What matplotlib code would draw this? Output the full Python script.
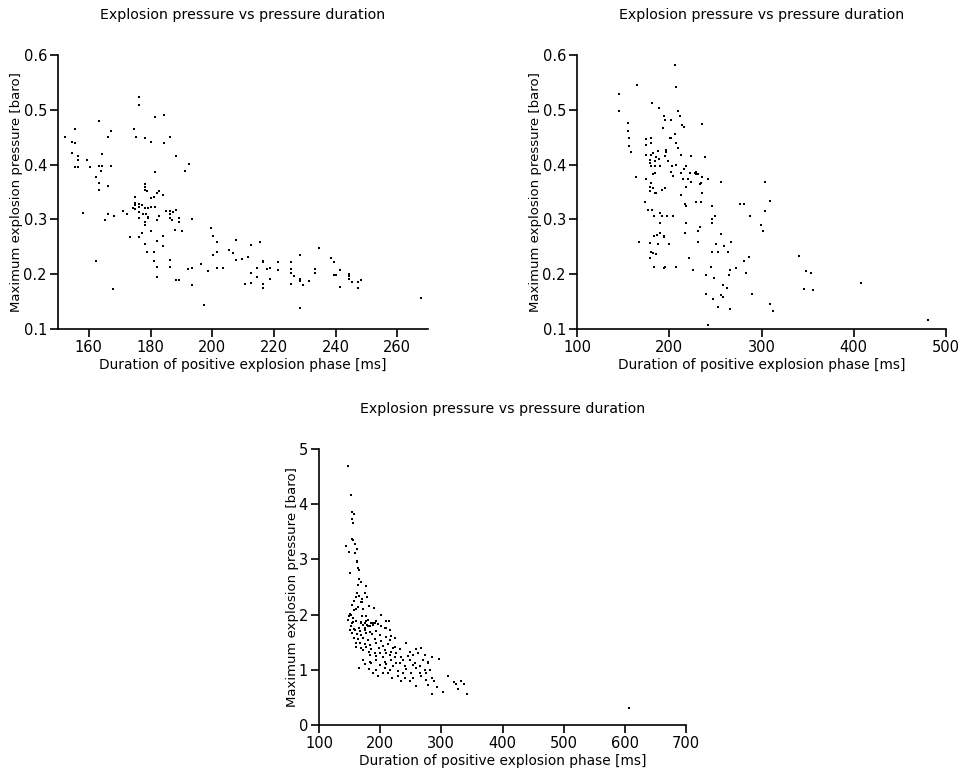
import numpy as np
import matplotlib.pyplot as plt

# durations [ms] and peak pressures [baro]
p1_dur = [
    152.4, 155.6, 154.4, 155.6, 154.4, 156.4, 156.4, 155.6, 156.4, 159.4,
    160.3, 158.2, 162.2, 163.2, 164.3, 163.2, 164.3, 164.1, 162.4, 163.2,
    163.2, 166.2, 166.2, 167.3, 167.3, 165.2, 166.3, 168.0, 167.9, 171.0,
    172.3, 173.2, 174.5, 175.4, 176.4, 176.4, 178.2, 180.3, 181.4, 184.4,
    184.4, 186.4, 188.3, 181.3, 192.6, 191.3, 178.2, 178.2, 178.2, 179.0,
    182.0, 182.9, 181.2, 180.3, 184.2, 175.1, 175.1, 175.1, 176.2, 177.2,
    174.3, 175.1, 176.2, 178.2, 179.3, 176.2, 177.5, 178.6, 179.3, 180.3,
    181.4, 176.2, 179.3, 185.1, 186.4, 187.2, 188.3, 182.9, 186.2, 186.2,
    187.0, 189.2, 189.4, 193.3, 182.0, 178.2, 178.2, 177.1, 176.2, 180.3,
    182.0, 184.2, 184.2, 178.2, 179.0, 181.2, 181.2, 182.0, 182.0, 186.2,
    186.2, 188.3, 189.2, 188.1, 190.3, 192.2, 193.3, 193.3,
    199.5, 200.4, 201.5, 201.5, 200.4, 196.5, 198.5, 201.5, 203.4, 205.6,
    206.7, 207.6, 207.6, 209.6, 211.5, 212.6, 215.6, 212.6, 212.6, 210.6,
    214.6, 214.6, 216.6, 216.6, 216.6, 216.6, 217.7, 218.6, 218.6, 221.4,
    221.4, 225.5, 225.5, 225.5, 225.5, 226.5, 228.4, 228.4, 228.4, 229.5,
    231.5, 228.4, 233.4, 233.4, 234.6, 238.4, 239.5, 239.5, 240.2, 197.4,
    241.5, 244.5, 244.5, 244.5, 248.2, 247.3, 245.4, 241.5, 247.3, 267.8,
]
p1_pres = [
    0.451, 0.465, 0.442, 0.439, 0.422, 0.416, 0.408, 0.396, 0.396, 0.408,
    0.396, 0.312, 0.225, 0.479, 0.419, 0.398, 0.398, 0.389, 0.378, 0.366,
    0.354, 0.361, 0.451, 0.462, 0.398, 0.299, 0.310, 0.307, 0.173, 0.315,
    0.309, 0.268, 0.465, 0.451, 0.524, 0.509, 0.449, 0.441, 0.486, 0.491,
    0.439, 0.451, 0.415, 0.386, 0.402, 0.388, 0.364, 0.359, 0.353, 0.351,
    0.349, 0.351, 0.340, 0.339, 0.344, 0.340, 0.330, 0.327, 0.329, 0.327,
    0.321, 0.319, 0.323, 0.321, 0.321, 0.313, 0.310, 0.310, 0.305, 0.323,
    0.323, 0.303, 0.303, 0.316, 0.316, 0.313, 0.318, 0.307, 0.310, 0.303,
    0.298, 0.295, 0.303, 0.301, 0.298, 0.296, 0.290, 0.276, 0.268, 0.278,
    0.261, 0.269, 0.251, 0.256, 0.241, 0.241, 0.225, 0.214, 0.195, 0.226,
    0.213, 0.190, 0.190, 0.280, 0.278, 0.209, 0.211, 0.181,
    0.284, 0.269, 0.259, 0.241, 0.235, 0.219, 0.205, 0.212, 0.212, 0.245,
    0.238, 0.263, 0.226, 0.228, 0.232, 0.254, 0.259, 0.202, 0.184, 0.183,
    0.211, 0.195, 0.225, 0.222, 0.183, 0.175, 0.209, 0.212, 0.191, 0.223,
    0.207, 0.223, 0.210, 0.203, 0.183, 0.196, 0.235, 0.192, 0.187, 0.181,
    0.187, 0.138, 0.209, 0.203, 0.248, 0.229, 0.223, 0.199, 0.199, 0.144,
    0.208, 0.201, 0.197, 0.192, 0.190, 0.185, 0.186, 0.176, 0.175, 0.156,
]

p2_dur = [
    145.2, 145.2, 165.5, 155.3, 155.3, 156.5, 156.0, 158.3, 163.7, 167.2,
    175.2, 179.9, 174.5, 180.6, 180.6, 182.4, 188.2, 175.2, 179.5, 186.0,
    184.2, 188.6, 178.8, 180.6, 184.2, 189.7, 182.4, 184.2, 175.2, 179.9,
    178.8, 182.4, 179.5, 184.2, 186.0, 192.2, 195.1, 173.8, 177.0, 181.3,
    183.5, 189.7, 192.6, 197.6, 204.1, 190.4, 183.5, 186.8, 190.4, 194.0,
    179.5, 187.5, 199.8, 194.0, 179.9, 182.4, 186.0, 178.8, 183.2, 194.0,
    195.8, 207.0, 181.0, 188.6, 194.0, 195.1, 193.3, 201.2, 205.9, 207.7,
    209.2, 196.9, 196.9, 195.8, 198.7, 203.4, 207.7, 213.2, 202.3, 204.1,
    213.2, 215.7, 218.6, 215.0, 220.0, 222.2, 229.4, 231.2, 235.6, 234.9,
    242.1, 218.6, 224.0, 228.3, 229.4, 233.0, 212.4, 216.8, 218.6, 228.7,
    234.1, 224.0, 235.6, 239.2, 218.6, 217.5, 230.9, 233.4, 231.6, 221.1,
    225.8, 239.6, 239.6, 235.9, 209.5, 211.4, 213.5, 216.1, 207.0, 205.9,
    201.6, 201.6,
    255.8, 303.5, 246.4, 277.2, 281.1, 309.0, 304.3, 250.0, 246.8, 287.3,
    246.8, 299.9, 302.1, 255.8, 267.0, 250.8, 259.8, 246.1, 252.9, 264.1,
    340.8, 286.9, 281.1, 245.0, 272.8, 265.6, 348.7, 353.4, 264.9, 282.9,
    249.0, 258.7, 263.1, 407.7, 346.6, 356.3, 256.5, 258.7, 289.8, 247.5,
    309.7, 252.9, 265.6, 312.9, 481.0, 242.5,
]
p2_pres = [
    0.529, 0.497, 0.546, 0.476, 0.462, 0.449, 0.434, 0.423, 0.377, 0.259,
    0.446, 0.448, 0.435, 0.439, 0.418, 0.421, 0.424, 0.418, 0.409, 0.414,
    0.406, 0.410, 0.403, 0.398, 0.398, 0.397, 0.382, 0.385, 0.373, 0.366,
    0.360, 0.357, 0.351, 0.349, 0.349, 0.354, 0.357, 0.332, 0.318, 0.318,
    0.307, 0.312, 0.307, 0.307, 0.307, 0.293, 0.270, 0.272, 0.275, 0.269,
    0.257, 0.256, 0.256, 0.267, 0.241, 0.239, 0.237, 0.229, 0.213, 0.211,
    0.213, 0.213, 0.512, 0.503, 0.489, 0.482, 0.467, 0.449, 0.455, 0.439,
    0.430, 0.427, 0.423, 0.416, 0.406, 0.397, 0.400, 0.418, 0.386, 0.379,
    0.385, 0.392, 0.397, 0.373, 0.373, 0.385, 0.386, 0.382, 0.377, 0.366,
    0.373, 0.360, 0.368, 0.385, 0.383, 0.365, 0.344, 0.328, 0.325, 0.331,
    0.332, 0.415, 0.474, 0.414, 0.293, 0.276, 0.279, 0.287, 0.258, 0.230,
    0.208, 0.199, 0.164, 0.348, 0.498, 0.489, 0.473, 0.469, 0.542, 0.581,
    0.482, 0.449,
    0.369, 0.368, 0.325, 0.328, 0.329, 0.334, 0.315, 0.307, 0.301, 0.307,
    0.294, 0.289, 0.279, 0.274, 0.258, 0.255, 0.252, 0.240, 0.241, 0.240,
    0.233, 0.231, 0.225, 0.213, 0.211, 0.207, 0.206, 0.202, 0.199, 0.202,
    0.193, 0.181, 0.175, 0.184, 0.173, 0.171, 0.162, 0.158, 0.164, 0.154,
    0.146, 0.140, 0.136, 0.133, 0.117, 0.107,
]

p3_dur = [
    147.5, 153.0, 154.1, 156.8, 154.6, 155.7, 154.1, 156.2, 144.2, 159.5,
    161.7, 149.7, 159.5, 162.8, 161.7, 163.3, 165.0, 151.3, 165.5, 169.3,
    164.4, 176.4, 174.8, 162.3, 166.1, 179.2, 160.6, 169.9, 156.8, 168.2,
    171.0, 153.5, 181.3, 189.5, 163.9, 160.6, 172.6, 157.9, 152.4, 149.2,
    151.3, 170.4, 177.5, 202.1, 179.7, 155.7, 148.1, 161.2, 154.1, 169.3,
    175.9, 188.4, 192.3, 196.6, 179.2, 183.0, 214.6, 209.7, 150.8, 157.3,
    165.0, 175.3,
    155.7, 161.2, 169.3, 177.5, 185.7, 193.9, 196.6, 210.3, 153.0, 172.1,
    180.3, 188.4, 202.1,
    150.2, 158.4, 166.6, 174.8, 183.0, 193.9, 207.5, 215.7,
    154.6, 162.2, 169.3, 177.5, 187.3, 199.3, 210.3, 218.4,
    156.8, 163.9, 172.1, 180.3, 191.2, 202.1, 215.7, 223.9,
    160.1, 167.7, 174.8, 183.0, 193.9, 204.8, 213.0, 243.0, 223.9,
    161.2, 169.3, 177.5, 185.7, 198.3, 207.5, 221.2, 232.1, 258.3, 267.5,
    172.1, 181.9, 191.2, 199.3, 210.3, 218.4, 226.6, 248.4, 262.1,
    183.0, 193.9, 204.8, 215.7, 223.9, 234.8, 245.7, 253.9, 273.0,
    172.1, 183.0, 193.9, 207.5, 218.4, 226.6, 237.5, 248.4, 256.6, 270.3, 278.5,
    174.8, 185.7, 199.3, 210.3, 221.2, 232.1, 240.3, 253.9, 264.8, 279.0,
    165.5, 181.9, 193.9, 207.5, 215.7, 229.4, 243.0, 259.4, 273.0,
    188.4, 204.8, 213.0, 237.5, 251.2, 264.8, 275.7,
    196.6, 220.1, 229.4, 240.3, 253.9, 267.5,
    234.8, 248.4, 275.7, 259.4, 278.5,
    285.5, 296.5, 281.2, 285.5, 287.8, 292.2, 285.5, 303.0, 311.7, 321.5,
    323.7, 327.0, 331.4, 336.3, 342.3, 606.9,
]
p3_pres = [
    4.70, 4.17, 3.86, 3.82, 3.74, 3.66, 3.37, 3.36, 3.24, 3.27,
    3.19, 3.14, 3.11, 2.98, 2.95, 2.84, 2.81, 2.75, 2.65, 2.59,
    2.54, 2.52, 2.39, 2.39, 2.34, 2.32, 2.31, 2.29, 2.25, 2.23,
    2.22, 2.18, 2.16, 2.12, 2.14, 2.11, 2.11, 2.08, 1.99, 1.97,
    2.01, 1.98, 1.98, 1.99, 1.90, 1.94, 1.91, 1.88, 1.84, 1.87,
    1.85, 1.85, 1.85, 1.83, 1.81, 1.79, 1.89, 1.75, 1.73, 1.74,
    1.75, 1.76,
    1.87, 1.88, 1.85, 1.88, 1.85, 1.88, 1.83, 1.88, 1.79, 1.81,
    1.79, 1.81, 1.79,
    1.72, 1.73, 1.71, 1.72, 1.69, 1.71, 1.75, 1.72,
    1.66, 1.65, 1.63, 1.66, 1.65, 1.63, 1.60, 1.61,
    1.57, 1.55, 1.57, 1.54, 1.55, 1.53, 1.54, 1.57,
    1.49, 1.48, 1.47, 1.45, 1.48, 1.43, 1.47, 1.48, 1.42,
    1.41, 1.39, 1.42, 1.37, 1.39, 1.36, 1.39, 1.37, 1.37, 1.39,
    1.35, 1.33, 1.31, 1.30, 1.31, 1.33, 1.30, 1.33, 1.30,
    1.27, 1.25, 1.24, 1.27, 1.24, 1.23, 1.25, 1.27, 1.27,
    1.17, 1.15, 1.18, 1.15, 1.17, 1.13, 1.17, 1.18, 1.13, 1.18, 1.15,
    1.11, 1.12, 1.09, 1.11, 1.07, 1.12, 1.06, 1.09, 1.07, 1.12,
    1.03, 1.01, 1.00, 1.03, 1.00, 0.98, 1.01, 1.03, 1.00,
    0.95, 0.95, 0.94, 0.94, 0.95, 0.94, 0.95,
    0.88, 0.85, 0.88, 0.85, 0.86, 0.89,
    0.80, 0.79, 0.82, 0.71, 0.72,
    1.24, 1.19, 1.00, 0.85, 0.80, 0.69, 0.57, 0.60, 0.89, 0.77,
    0.74, 0.66, 0.80, 0.74, 0.56, 0.30,
]

title = "Explosion pressure vs pressure duration"
xlab = "Duration of positive explosion phase [ms]"
ylab = "Maximum explosion pressure [baro]"

top_yticks = [0.1, 0.2, 0.3, 0.4, 0.5, 0.6]
bot_yticks = [0, 1, 2, 3, 4, 5]

plt.rcParams["font.family"] = "DejaVu Sans"

fig = plt.figure(figsize=(9.63, 7.84), dpi=100)

W, H = 963, 784
def make_ax(x0, x1, y0, y1):
    # pixel box -> figure fraction
    return fig.add_axes([x0 / W, 1 - y1 / H, (x1 - x0) / W, (y1 - y0) / H])

ax1 = make_ax(58, 428, 55, 329)
ax2 = make_ax(577, 946, 55, 329)
ax3 = make_ax(319, 686, 449, 725)

panels = [
    (ax1, p1_dur, p1_pres, (150, 270), np.arange(160, 261, 20), (0.1, 0.6), top_yticks, "{:.1f}"),
    (ax2, p2_dur, p2_pres, (100, 500), np.arange(100, 501, 100), (0.1, 0.6), top_yticks, "{:.1f}"),
    (ax3, p3_dur, p3_pres, (100, 700), np.arange(100, 701, 100), (0, 5), bot_yticks, "{:g}"),
]

for ax, xd, yd, xl, xt, yl, yt, fmt in panels:
    ax.scatter(xd, yd, s=3, c="black", marker="s", linewidths=0)
    ax.set_xlim(*xl)
    ax.set_ylim(*yl)
    ax.set_xticks(xt)
    ax.set_yticks(yt)
    ax.set_yticklabels([fmt.format(v) for v in yt])
    ax.spines["top"].set_visible(False)
    ax.spines["right"].set_visible(False)
    for s in ("left", "bottom"):
        ax.spines[s].set_linewidth(1.2)
    ax.tick_params(direction="out", length=6, width=1.2, labelsize=10.5, pad=2)
    ax.set_title(title, fontsize=10.2, pad=26)
    ax.set_xlabel(xlab, fontsize=9.9, labelpad=2)
    ax.set_ylabel(ylab, fontsize=9.5, labelpad=0)

fig.savefig("out.png", dpi=100)
